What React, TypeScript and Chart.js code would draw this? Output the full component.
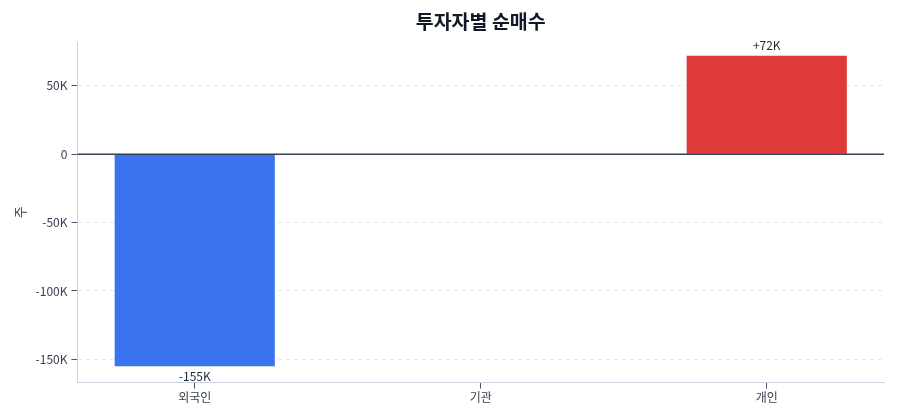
import React, { useEffect, useRef } from "react";
import { Chart, registerables } from "chart.js";

Chart.register(...registerables);

const TITLE = "투자자별 순매수";
const Y_TITLE = "주";
const categories = ["외국인", "기관", "개인"];
const netBuy = [-155000, 0, 72000];
const barColors = ["#3b74ee", "#8b93a1", "#df3a3a"];
const yMin = -167000;
const yMax = 82000;
const yTicks = [-150000, -100000, -50000, 0, 50000];
const xPad = 0.41;

const FONT = "'Noto Sans CJK KR', 'Noto Sans', sans-serif";

function fmtK(v: number): string {
  if (v === 0) return "0";
  return `${v / 1000}K`;
}
function fmtLabel(v: number): string {
  const s = `${Math.round(v / 1000)}K`;
  return v > 0 ? `+${s}` : s;
}

const overlayPlugin = {
  id: "overlay",
  afterDatasetsDraw(chart: any) {
    const { ctx, chartArea, scales } = chart;
    const meta = chart.getDatasetMeta(0);
    ctx.save();
    ctx.font = `12px ${FONT}`;
    ctx.fillStyle = "#1f2937";
    ctx.textAlign = "center";
    meta.data.forEach((bar: any, i: number) => {
      const v = netBuy[i];
      if (!v) return;
      if (v > 0) {
        ctx.textBaseline = "bottom";
        ctx.fillText(fmtLabel(v), bar.x, bar.y - 4);
      } else {
        ctx.textBaseline = "top";
        ctx.fillText(fmtLabel(v), bar.x, bar.y + 4);
      }
    });
    const y0 = scales.y.getPixelForValue(0);
    ctx.strokeStyle = "#334155";
    ctx.lineWidth = 1.5;
    ctx.beginPath();
    ctx.moveTo(chartArea.left, y0);
    ctx.lineTo(chartArea.right, y0);
    ctx.stroke();
    ctx.font = `bold 19.5px ${FONT}`;
    ctx.fillStyle = "#111827";
    ctx.textBaseline = "middle";
    ctx.fillText(TITLE, (chartArea.left + chartArea.right) / 2, 22);
    ctx.restore();
  },
};

export default function App() {
  const ref = useRef<HTMLCanvasElement | null>(null);
  useEffect(() => {
    if (!ref.current) return;
    const chart = new Chart(ref.current, {
      type: "bar",
      data: {
        datasets: [
          {
            data: netBuy.map((v, i) => ({ x: i, y: v })),
            backgroundColor: barColors,
            borderWidth: 0,
            barPercentage: 0.56,
            categoryPercentage: 1,
          },
        ],
      },
      options: {
        animation: false,
        responsive: true,
        maintainAspectRatio: false,
        layout: { padding: { top: 42, right: 16, bottom: 13, left: 8 } },
        plugins: {
          legend: { display: false },
          title: { display: false },
          tooltip: { enabled: false },
        },
        scales: {
          x: {
            type: "linear",
            min: -xPad,
            max: categories.length - 1 + xPad,
            offset: false,
            afterBuildTicks(axis: any) {
              axis.ticks = categories.map((_, i) => ({ value: i }));
            },
            grid: {
              display: true,
              drawOnChartArea: false,
              drawTicks: true,
              offset: false,
              tickLength: 6,
              tickColor: "#475569",
            },
            border: { display: true, color: "#cbd5e1", width: 1 },
            ticks: {
              color: "#374151",
              font: { family: FONT, size: 12 },
              padding: 2,
              autoSkip: false,
              maxRotation: 0,
              callback: (v: any) => categories[Math.round(Number(v))] ?? "",
            },
          },
          y: {
            min: yMin,
            max: yMax,
            afterBuildTicks(axis: any) {
              axis.ticks = yTicks.map((v) => ({ value: v }));
            },
            ticks: {
              color: "#374151",
              font: { family: FONT, size: 12 },
              padding: 4,
              callback: (v: any) => fmtK(Number(v)),
            },
            grid: {
              color: "#e5e7eb",
              drawTicks: true,
              tickLength: 6,
              tickColor: "#475569",
              tickBorderDash: [],
            },
            border: { display: true, color: "#cbd5e1", width: 1, dash: [4, 4] },
            title: {
              display: true,
              text: Y_TITLE,
              color: "#374151",
              font: { family: FONT, size: 13 },
            },
          },
        },
      },
      plugins: [overlayPlugin],
    });
    return () => chart.destroy();
  }, []);
  return (
    <div style={{ position: "fixed", left: 0, top: 0, width: 900, height: 420, background: "#fff" }}>
      <canvas ref={ref} />
    </div>
  );
}
